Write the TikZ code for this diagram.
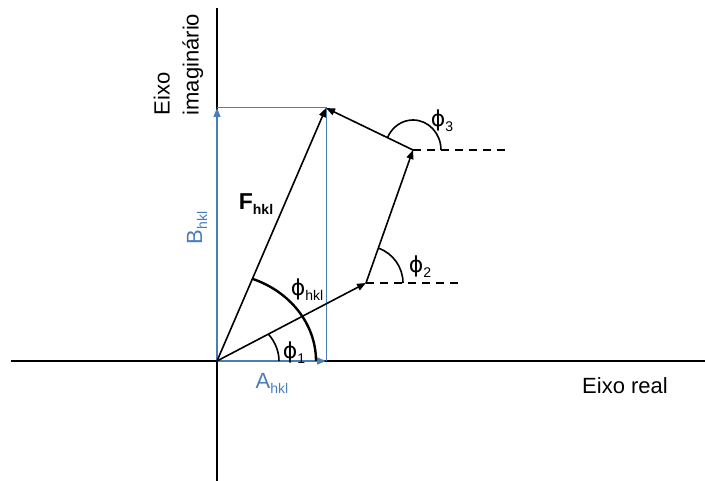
\documentclass[tikz,border=0pt]{standalone}
\usepackage{fontspec}
\setmainfont{Liberation Sans}
\newfontfamily\phifont{DejaVu Sans}
\usetikzlibrary{arrows.meta}
\definecolor{projblue}{HTML}{4A7EBB}
\newcommand{\lowtxt}[1]{\raisebox{-5pt}{\fontsize{14}{14}\selectfont #1}}
\newcommand{\phisym}{{\phifont ϕ}}

\begin{document}
\begin{tikzpicture}[x=1pt, y=1pt, font=\fontsize{22}{29}\selectfont,
  axis/.style={line width=1.5pt},
  vec/.style={line width=1.6pt, -{Triangle[length=9pt,width=7pt]}},
  proj/.style={projblue, line width=1pt},
  projvec/.style={projblue, line width=1.4pt, -{Triangle[length=9pt,width=7pt]}},
  guide/.style={line width=1.6pt, dash pattern=on 8pt off 6pt},
  angarc/.style={line width=1.6pt},
  lab/.style={inner sep=0pt}]
  \useasboundingbox (0,0) rectangle (705,481);

  \coordinate (O) at (217,120);
  \coordinate (xl) at (11,120);
  \coordinate (xr) at (705,120);
  \coordinate (yb) at (217,0);
  \coordinate (yt) at (217,473);
  \coordinate (A) at (326,120);
  \coordinate (B) at (217,373);
  \coordinate (F) at (326,373);
  \coordinate (P1) at (366,198);
  \coordinate (P2) at (413,331);
  \coordinate (d1) at (460,198);
  \coordinate (d2) at (510,331);

  \draw[axis] (xl) -- (xr);
  \draw[axis] (yb) -- (yt);
  \draw[proj] (B) -| (A);
  \draw[projvec] (O) -- (A);
  \draw[projvec] (O) -- (B);

  \draw[guide] (P1) -- (d1);
  \draw[guide] (P2) -- (d2);
  \draw[vec] (O) -- (F);
  \draw[vec] (O) -- (P1);
  \draw[vec] (P1) -- (P2);
  \draw[vec] (P2) -- (F);

  \draw[angarc] (O) ++(62,0) arc[start angle=0, end angle=34, x radius=62, y radius=48];
  \draw[angarc, line width=2.4pt] (O) ++(99,0) arc[start angle=0, end angle=69.3, x radius=99, y radius=88];
  \draw[angarc] (P1) ++(37,0) arc[start angle=0, end angle=70.5, radius=37];
  \draw[angarc] (P2) ++(28,0) arc[start angle=0, end angle=155.5, x radius=28, y radius=30];

  \node[lab, rotate=90, align=left] (ylab) at (178.5,416.5) {Eixo\\imaginário};
  \node[lab] (xlab) at (625,95) {Eixo real};
  \node[lab, text=projblue] (alab) at (272,98) {A\lowtxt{hkl}};
  \node[lab, text=projblue, rotate=90] (blab) at (197,253) {B\lowtxt{hkl}};
  \node[lab, font=\fontsize{23}{23}\selectfont\bfseries] (flab) at (256,277) {F\lowtxt{\bfseries hkl}};
  \node[lab] (phkl) at (307,191) {\phisym\lowtxt{hkl}};
  \node[lab] (p1) at (294,128) {\phisym\lowtxt{1}};
  \node[lab] (p2) at (420,214) {\phisym\lowtxt{2}};
  \node[lab] (p3) at (442,360) {\phisym\lowtxt{3}};
\end{tikzpicture}
\end{document}
